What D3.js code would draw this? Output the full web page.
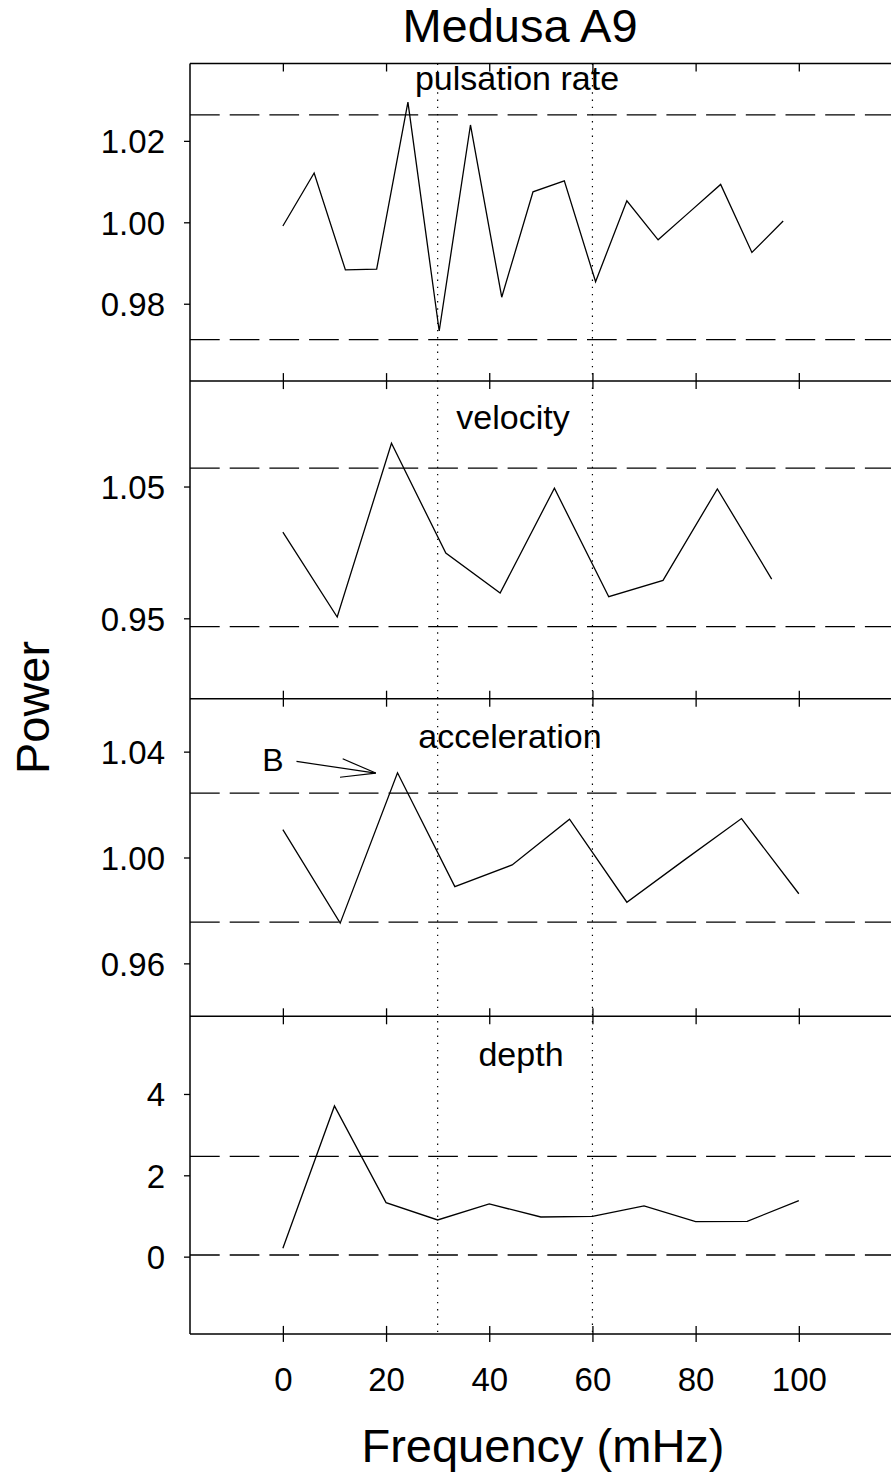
<!DOCTYPE html>
<html>
<head>
<meta charset="utf-8">
<script src="https://cdn.jsdelivr.net/npm/d3@7"></script>
<style>
  html, body { margin: 0; padding: 0; background: #fff; }
  svg { display: block; }
  text { font-family: "Liberation Sans", Arial, Helvetica, sans-serif; fill: #000; }
</style>
</head>
<body>
<svg id="chart" width="891" height="1473"></svg>
<script>
// ---- data ----
const panelNames = ["pulsation rate", "velocity", "acceleration", "depth"];

const pulsationFreq  = [0, 6.06, 12.12, 18.18, 24.24, 30.30, 36.36, 42.42, 48.48, 54.55, 60.61, 66.67, 72.73, 78.79, 84.85, 90.91, 96.97];
const pulsationPower = [0.9991, 1.0121, 0.9883, 0.9885, 1.0295, 0.9733, 1.0239, 0.9816, 1.0075, 1.0102, 0.9854, 1.0053, 0.9957, 1.0025, 1.0093, 0.9926, 1.0003];

const velocityFreq  = [0, 10.53, 21.05, 31.58, 42.11, 52.63, 63.16, 73.68, 84.21, 94.74];
const velocityPower = [1.0154, 0.9510, 1.0828, 0.9995, 0.9692, 1.0487, 0.9664, 0.9788, 1.0482, 0.9798];

const accelFreq  = [0, 11.11, 22.22, 33.33, 44.44, 55.56, 66.67, 77.78, 88.89, 100];
const accelPower = [1.0105, 0.9752, 1.0320, 0.9890, 0.9972, 1.0145, 0.9831, 0.9990, 1.0147, 0.9863];

const depthFreq  = [0, 10, 20, 30, 40, 50, 60, 70, 80, 90, 100];
const depthPower = [0.205, 3.705, 1.328, 0.902, 1.295, 0.975, 0.992, 1.246, 0.861, 0.869, 1.377];

// significance levels (lower, upper) per panel
const pulsationLimits = [0.9712, 1.0264];
const velocityLimits  = [0.9437, 1.0639];
const accelLimits     = [0.9756, 1.0243];
const depthLimits     = [0.04, 2.467];

// y-axis ranges and ticks per panel
const pulsationRange = [0.961, 1.039];
const velocityRange  = [0.889, 1.130];
const accelRange     = [0.94, 1.06];
const depthRange     = [-1.9, 5.91];

const pulsationTicks = [0.98, 1.00, 1.02];
const velocityTicks  = [0.95, 1.05];
const accelTicks     = [0.96, 1.00, 1.04];
const depthTicks     = [0, 2, 4];

const freqTicks   = [0, 20, 40, 60, 80, 100];
const markerFreqs = [30, 60];          // dotted reference frequencies
const freqRange   = [-18, 120];

// annotation "B" pointing at the acceleration peak
const arrowFrom = [2.64, 1.0363];
const arrowTo   = [18.0, 1.0319];
const arrowLabel = "B";
const arrowLabelAt = [-1.95, 1.0328];

// ---- layout ----
const svg = d3.select("#chart");
const left = 190, right = 902;
const top0 = 63.5, panelH = 317.6;
const bottom = top0 + 4 * panelH;

const x = d3.scaleLinear().domain(freqRange).range([left, right]);

const panels = [
  { name: panelNames[0], fx: pulsationFreq, fy: pulsationPower, lim: pulsationLimits, dom: pulsationRange, ticks: pulsationTicks, fmt: d3.format(".2f"), titleDy: 26.5, titleX: 517 },
  { name: panelNames[1], fx: velocityFreq,  fy: velocityPower,  lim: velocityLimits,  dom: velocityRange,  ticks: velocityTicks,  fmt: d3.format(".2f"), titleDy: 48.2, titleX: 513 },
  { name: panelNames[2], fx: accelFreq,     fy: accelPower,     lim: accelLimits,     dom: accelRange,     ticks: accelTicks,     fmt: d3.format(".2f"), titleDy: 49.6, titleX: 510 },
  { name: panelNames[3], fx: depthFreq,     fy: depthPower,     lim: depthLimits,     dom: depthRange,     ticks: depthTicks,     fmt: d3.format("d"),   titleDy: 49.7, titleX: 521 }
];

const lineW = 1.3;

panels.forEach((p, i) => {
  const pt = top0 + i * panelH, pb = pt + panelH;
  const y = d3.scaleLinear().domain(p.dom).range([pb, pt]);
  const g = svg.append("g");

  // significance levels
  p.lim.forEach(v => {
    g.append("line")
      .attr("x1", left).attr("x2", right)
      .attr("y1", y(v)).attr("y2", y(v))
      .attr("stroke", "#000").attr("stroke-width", lineW)
      .attr("stroke-dasharray", "29.7,10");
  });

  // spectrum
  const line = d3.line().x((d, k) => x(p.fx[k])).y(d => y(d));
  g.append("path")
    .attr("d", line(p.fy))
    .attr("fill", "none").attr("stroke", "#000")
    .attr("stroke-width", lineW).attr("stroke-linejoin", "miter");

  // panel title
  g.append("text")
    .attr("x", p.titleX).attr("y", pt + p.titleDy)
    .attr("text-anchor", "middle")
    .attr("font-size", 34)
    .text(p.name);

  // y axis
  const ya = svg.append("g").attr("transform", `translate(${left},0)`)
    .call(d3.axisLeft(y).tickValues(p.ticks).tickFormat(p.fmt).tickSize(6).tickPadding(19));
  ya.select(".domain").remove();
  ya.selectAll(".tick line").attr("stroke", "#000").attr("stroke-width", 1.3);
  ya.selectAll(".tick text").attr("font-size", 33).attr("dy", "0.36em")
    .attr("font-family", "Liberation Sans, Arial, sans-serif");

  // inward x ticks on top and bottom edges of the panel
  const tTop = svg.append("g").attr("transform", `translate(0,${pt})`)
    .call(d3.axisTop(x).tickValues(freqTicks).tickSize(-8).tickFormat(""));
  const tBot = svg.append("g").attr("transform", `translate(0,${pb})`)
    .call(d3.axisBottom(x).tickValues(freqTicks).tickSize(-8).tickFormat(""));
  [tTop, tBot].forEach(a => {
    a.select(".domain").remove();
    a.selectAll(".tick line").attr("stroke", "#000").attr("stroke-width", 1.3);
  });

  // annotation in acceleration panel
  if (i === 2) {
    const x1 = x(arrowFrom[0]), y1 = y(arrowFrom[1]);
    const x2 = x(arrowTo[0]),   y2 = y(arrowTo[1]);
    g.append("line").attr("x1", x1).attr("y1", y1).attr("x2", x2).attr("y2", y2)
      .attr("stroke", "#000").attr("stroke-width", 1.2);
    const ang = Math.atan2(y1 - y2, x1 - x2);
    const headLen = 36, half = 15 * Math.PI / 180;
    [ang + half, ang - half].forEach(a => {
      g.append("line").attr("x1", x2).attr("y1", y2)
        .attr("x2", x2 + headLen * Math.cos(a)).attr("y2", y2 + headLen * Math.sin(a))
        .attr("stroke", "#000").attr("stroke-width", 1.2);
    });
    g.append("text")
      .attr("x", x(arrowLabelAt[0])).attr("y", y(arrowLabelAt[1]))
      .attr("text-anchor", "middle").attr("font-size", 32)
      .text(arrowLabel);
  }
});

// dotted reference frequencies across all panels
markerFreqs.forEach(f => {
  svg.append("line")
    .attr("x1", x(f)).attr("x2", x(f))
    .attr("y1", top0).attr("y2", bottom)
    .attr("stroke", "#000").attr("stroke-width", 1.2)
    .attr("stroke-dasharray", "1.4,5.8");
});

// frame: left edge and panel separators
svg.append("line").attr("x1", left).attr("x2", left).attr("y1", top0).attr("y2", bottom)
  .attr("stroke", "#000").attr("stroke-width", 1.5);
for (let i = 0; i <= 4; i++) {
  const yy = top0 + i * panelH;
  svg.append("line").attr("x1", left).attr("x2", right).attr("y1", yy).attr("y2", yy)
    .attr("stroke", "#000").attr("stroke-width", 1.5);
}

// bottom frequency axis with labels
const xa = svg.append("g").attr("transform", `translate(0,${bottom})`)
  .call(d3.axisBottom(x).tickValues(freqTicks).tickSize(8).tickPadding(26).tickFormat(d3.format("d")));
xa.select(".domain").remove();
xa.selectAll(".tick line").attr("stroke", "#000").attr("stroke-width", 1.3);
xa.selectAll(".tick text").attr("font-size", 33)
  .attr("font-family", "Liberation Sans, Arial, sans-serif");

// titles
svg.append("text").attr("x", 520).attr("y", 41.7).attr("text-anchor", "middle")
  .attr("font-size", 47).text("Medusa A9");
svg.append("text").attr("x", 543).attr("y", 1462).attr("text-anchor", "middle")
  .attr("font-size", 47).text("Frequency (mHz)");
svg.append("text").attr("transform", "translate(49,707.5) rotate(-90)")
  .attr("text-anchor", "middle").attr("font-size", 47).text("Power");
</script>
</body>
</html>
